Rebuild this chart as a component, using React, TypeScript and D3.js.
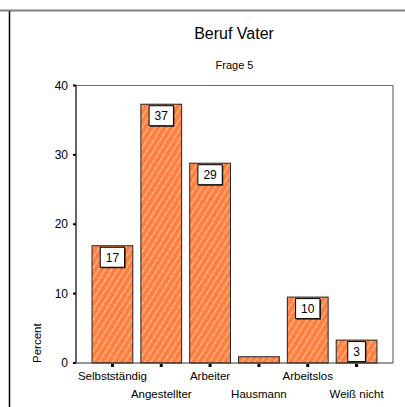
import React from "react";
import * as d3 from "d3";

const categories = ["Selbstständig", "Angestellter", "Arbeiter", "Hausmann", "Arbeitslos", "Weiß nicht"];
const values = [16.9, 37.3, 28.8, 0.9, 9.5, 3.3];
const labels = ["17", "37", "29", "", "10", "3"];
const yTicks = [0, 10, 20, 30, 40];

const W = 405;
const H = 407;
const plotL = 76;
const plotR = 393;
const plotT = 85.5;
const plotB = 363;
const FONT = "'Liberation Sans', Arial, sans-serif";

export default function App() {
  const x = d3
    .scaleBand<string>()
    .domain(categories)
    .range([88, 381])
    .paddingInner(0.165)
    .paddingOuter(0.0825);
  const y = d3.scaleLinear().domain([0, 40]).range([plotB, plotT]);

  const charW = (s: string, fs: number) => s.length * fs * 0.556;

  return (
    <svg
      width={W}
      height={H}
      style={{ position: "absolute", left: 0, top: 0, background: "#fff" }}
      fontFamily={FONT}
    >
      <defs>
        <pattern
          id="hatch"
          patternUnits="userSpaceOnUse"
          width={5.5}
          height={5.5}
          patternTransform="rotate(32)"
        >
          <rect width={5.5} height={5.5} fill="#FF7F3F" />
          <line x1={1} y1={0} x2={1} y2={5.5} stroke="#FFD9C4" strokeWidth={0.9} strokeDasharray="2.5 0.8" />
        </pattern>
      </defs>
      <rect x={0} y={0} width={W} height={H} fill="#fff" />
      {/* outer page frame */}
      <line x1={0} y1={10.5} x2={W} y2={10.5} stroke="#808080" strokeWidth={2} />
      <line x1={9.5} y1={11} x2={9.5} y2={H} stroke="#000" strokeWidth={1.5} />

      {/* titles */}
      <text x={234} y={39} textAnchor="middle" fontSize={16} fill="#000">
        Beruf Vater
      </text>
      <text x={234.5} y={69} textAnchor="middle" fontSize={11} fill="#000">
        Frage 5
      </text>

      {/* plot frame */}
      <line x1={plotL} y1={plotT} x2={plotR} y2={plotT} stroke="#6e6e6e" strokeWidth={1.2} />
      <line x1={plotR} y1={plotT} x2={plotR} y2={plotB} stroke="#6e6e6e" strokeWidth={1.2} />

      {/* bars */}
      {categories.map((c, i) => (
        <rect
          key={c}
          x={x(c)!}
          y={y(values[i])}
          width={x.bandwidth()}
          height={plotB - y(values[i])}
          fill="url(#hatch)"
          stroke="#222"
          strokeWidth={1}
        />
      ))}

      {/* value labels */}
      {categories.map((c, i) => {
        if (!labels[i]) return null;
        const cx = x(c)! + x.bandwidth() / 2;
        const bw = charW(labels[i], 12) + 11;
        const top = y(values[i]) + 1.5;
        return (
          <g key={"l" + c}>
            <rect x={cx - bw / 2 + 1} y={top + 1} width={bw} height={20} fill="#222" />
            <rect x={cx - bw / 2} y={top} width={bw} height={20} fill="#fff" stroke="#000" strokeWidth={1} />
            <text x={cx} y={top + 14.5} textAnchor="middle" fontSize={12} fill="#000">
              {labels[i]}
            </text>
          </g>
        );
      })}

      {/* axes */}
      <line x1={plotL} y1={plotT} x2={plotL} y2={plotB} stroke="#000" strokeWidth={1.2} />
      <line x1={plotL} y1={plotB} x2={plotR} y2={plotB} stroke="#333" strokeWidth={1.2} />
      {yTicks.map((t) => (
        <g key={"t" + t}>
          <rect x={73} y={y(t) - 1} width={3} height={2} fill="#000" />
          <text x={68} y={y(t) + 4} textAnchor="end" fontSize={12} fill="#000">
            {t}
          </text>
        </g>
      ))}
      {categories.map((c, i) => {
        const cx = x(c)! + x.bandwidth() / 2;
        return (
          <g key={"x" + c}>
            <rect x={cx - 1.5} y={plotB + 1} width={3} height={3} fill="#000" />
            <text
              x={cx}
              y={i % 2 === 0 ? 380 : 398}
              textAnchor="middle"
              fontSize={11.5}
              fill="#000"
            >
              {c}
            </text>
          </g>
        );
      })}
      <text
        transform={`translate(41,${plotB}) rotate(-90)`}
        textAnchor="start"
        fontSize={11.5}
        fill="#000"
      >
        Percent
      </text>
    </svg>
  );
}
